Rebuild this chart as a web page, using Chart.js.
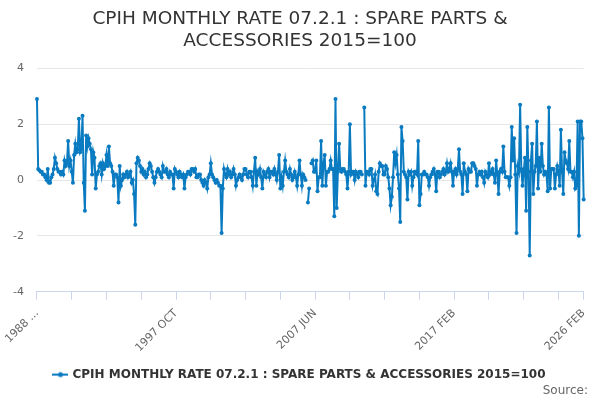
<!DOCTYPE html>
<html>
<head>
<meta charset="utf-8">
<script src="https://cdn.jsdelivr.net/npm/chart.js@4"></script>
<style>
  html, body { margin: 0; padding: 0; background: #fff; }
  #wrap { width: 600px; height: 400px; }
</style>
</head>
<body>
<div id="wrap"><canvas id="myChart"></canvas></div>
<script>
const seriesName = 'CPIH MONTHLY RATE 07.2.1 : SPARE PARTS & ACCESSORIES 2015=100';
const titleLines = ['CPIH MONTHLY RATE 07.2.1 : SPARE PARTS &', 'ACCESSORIES 2015=100'];
const sourceText = 'Source:';

// monthly periods, first one is 1988 FEB
const monthNames = ['JAN', 'FEB', 'MAR', 'APR', 'MAY', 'JUN', 'JUL', 'AUG', 'SEP', 'OCT', 'NOV', 'DEC'];
const startYear = 1988;
const startMonth = 1;

// monthly rate (%), one row per 12 months
const rates = [
  2.9, 0.4, 0.35, 0.3, 0.3, 0.2, 0.2, 0.1, 0.0, 0.4, -0.1, -0.1,
  0.1, 0.2, 0.4, 0.8, 0.6, 0.4, 0.3, 0.3, 0.2, 0.3, 0.2, 0.7,
  0.5, 0.6, 1.4, 0.5, 0.7, 0.3, -0.1, 0.9, 1.3, 1.0, 1.1, 2.2,
  1.0, 1.1, 2.3, -0.1, -1.1, 1.6, 1.2, 1.5, 1.3, 1.1, 0.2, 1.0,
  0.8, -0.3, 0.2, 0.3, 0.5, 0.6, 0.2, 0.6, 0.4, 0.5, 0.9, 0.5,
  1.2, 0.6, 0.5, 0.3, -0.2, 0.2, 0.2, 0.1, -0.8, 0.5, -0.2, 0.0,
  0.2, 0.1, 0.2, 0.3, 0.1, 0.2, 0.3, -0.1, 0.0, -0.5, -1.6, 0.6,
  0.8, 0.7, 0.5, 0.3, 0.4, 0.2, 0.3, 0.1, 0.2, 0.4, 0.6, 0.5,
  0.3, 0.1, -0.1, 0.1, 0.3, 0.4, 0.3, 0.2, 0.1, 0.5, 0.3, 0.3,
  0.4, 0.2, 0.1, 0.3, 0.2, 0.2, -0.3, 0.4, 0.3, 0.2, 0.1, 0.3,
  0.2, 0.1, 0.2, -0.3, 0.1, 0.2, 0.3, 0.3, 0.2, 0.4, 0.4, 0.3,
  0.4, 0.1, 0.1, 0.2, 0.2, 0.0, -0.1, -0.2, 0.0, -0.1, -0.3, 0.1,
  0.2, 0.6, 0.2, 0.1, 0.0, -0.1, 0.0, -0.1, -0.2, -0.2, -1.9, -0.3,
  0.4, 0.2, 0.1, 0.4, 0.2, 0.3, 0.1, 0.2, 0.4, 0.2, -0.2, 0.0,
  0.1, 0.2, 0.1, 0.0, 0.2, 0.4, 0.4, 0.2, 0.1, 0.3, 0.3, 0.1,
  -0.2, 0.3, 0.8, -0.2, 0.3, 0.2, 0.4, 0.1, -0.3, 0.3, 0.2, 0.1,
  0.3, 0.4, 0.1, 0.3, 0.3, 0.2, 0.4, 0.2, 0.0, 0.3, 0.9, -0.3,
  0.1, -0.2, 0.3, 0.7, 0.3, 0.2, 0.1, 0.4, 0.2, 0.0, 0.1, 0.3,
  0.1, -0.2, 0.2, 0.7, 0.2, -0.2, 0.2, 0.1, 0.0, null, -0.8, -0.3,
  null, 0.6, 0.7, 0.3, 0.3, 0.7, -0.4, 0.1, 0.1, 1.4, -0.2, 0.6,
  0.9, -0.2, 0.3, 0.3, 0.4, 0.7, 0.4, 0.4, -1.3, 2.9, -1.0, 0.3,
  1.3, 0.4, 0.3, 0.4, 0.4, 0.3, 0.2, -0.3, 0.3, 2.0, 0.2, 0.3,
  0.3, 0.0, 0.3, 0.2, 0.1, 0.3, 0.3, 0.2, null, 2.6, -0.2, 0.3,
  0.3, 0.2, 0.4, 0.4, -0.2, 0.0, 0.2, -0.4, -0.5, 0.3, 0.6, 0.5,
  0.5, 0.2, 0.2, 0.5, 0.4, 0.1, -0.3, -0.9, -0.6, 0.1, 1.0, 0.6,
  0.9, 0.2, -0.3, -1.5, 1.9, 1.4, 0.3, 0.2, 0.1, -0.7, 0.3, 0.2,
  0.3, -0.2, 0.1, 0.3, 0.3, 0.2, 1.4, -0.9, -0.5, 0.2, 0.2, 0.3,
  0.2, 0.2, 0.1, -0.2, 0.1, 0.2, 0.3, 0.4, 0.2, -0.4, 0.3, 0.3,
  0.1, 0.2, 0.3, 0.4, 0.2, 0.3, 0.6, 0.3, 0.4, 0.6, 0.3, -0.2,
  0.3, 0.4, 0.2, 0.4, 1.1, 0.3, 0.2, -0.5, 0.6, 0.3, 0.2, -0.4,
  0.4, 0.3, 0.3, 0.6, 0.6, 0.5, 0.4, -0.2, 0.2, 0.3, 0.2, 0.3,
  0.1, -0.1, 0.3, 0.2, 0.1, 0.6, 0.2, 0.3, 0.4, 0.2, -0.1, 0.7,
  0.2, -0.5, 0.3, 0.4, 0.3, 1.2, 0.3, 0.1, 0.1, 0.1, -0.2, 0.1,
  1.9, 0.7, 1.5, 0.2, -1.9, 0.5, 0.3, 2.7, 0.4, -0.2, 0.3, 0.8,
  -1.1, 1.9, 0.3, -2.7, 0.7, 1.3, -0.5, 0.3, 0.5, 2.1, -0.3, 0.8,
  0.3, 1.3, 0.5, 0.2, 0.3, 0.2, -0.4, 2.6, -0.3, 0.4, 0.4, 0.4,
  -0.3, 0.2, 0.5, 0.3, -0.2, 1.8, 0.3, -0.5, 1.0, 0.7, 0.6, 0.4,
  1.4, 0.3, 0.3, 0.1, 0.3, -0.3, -0.2, 2.1, -2.0, 2.1, 2.1, 1.5,
  -0.7
];

const yTicks = [-4, -2, 0, 2, 4];
const tickEvery = 29;   // small tick marks
const labelEvery = 116; // labelled ticks

const labels = rates.map((v, i) => {
  const m = startMonth + i;
  return (startYear + Math.floor(m / 12)) + ' ' + monthNames[m % 12];
});

const lineColor = '#0a7bc1';
const fontFamily = '"DejaVu Sans", Verdana, sans-serif';

// legend symbol: short line with a dot, like the original
const legendIcon = () => {
  const c = document.createElement('canvas');
  c.width = 16; c.height = 8;
  const g = c.getContext('2d');
  g.strokeStyle = lineColor;
  g.lineWidth = 2;
  g.beginPath(); g.moveTo(0, 4); g.lineTo(16, 4); g.stroke();
  g.fillStyle = lineColor;
  g.beginPath(); g.arc(8, 4, 2.5, 0, Math.PI * 2); g.fill();
  return c;
};

// keep the "Source:" credit a little in from the right edge
const sourceInset = {
  id: 'sourceInset',
  afterLayout: (chart) => {
    chart.boxes.forEach((box) => {
      if (box.options && box.options.text === sourceText) box.right -= 12;
    });
  }
};

const ctx = document.getElementById('myChart');
const myChart = new Chart(ctx, {
  type: 'line',
  data: {
    labels: labels,
    datasets: [{
      label: seriesName,
      data: rates,
      borderColor: lineColor,
      backgroundColor: lineColor,
      borderWidth: 2,
      pointRadius: 2,
      pointBackgroundColor: lineColor,
      pointBorderWidth: 0,
      tension: 0,
      spanGaps: false
    }]
  },
  plugins: [sourceInset],
  options: {
    responsive: true,
    maintainAspectRatio: false,
    animation: false,
    layout: { padding: { left: 0, right: 0, top: 4, bottom: 2 } },
    plugins: {
      title: {
        display: true,
        text: titleLines,
        color: '#333333',
        font: { family: fontFamily, size: 18.5, weight: 'normal', lineHeight: 1.2 },
        padding: { top: 4, bottom: 16 }
      },
      subtitle: {
        display: true,
        position: 'bottom',
        align: 'end',
        text: sourceText,
        color: '#666666',
        font: { family: fontFamily, size: 12, weight: 'normal' },
        padding: { top: -7, bottom: 0 }
      },
      legend: {
        position: 'bottom',
        labels: {
          color: '#333333',
          font: { family: fontFamily, size: 12, weight: 'bold' },
          usePointStyle: true,
          boxWidth: 16,
          padding: 4,
          generateLabels: (chart) => [{
            text: seriesName,
            pointStyle: legendIcon(),
            fillStyle: lineColor,
            strokeStyle: lineColor,
            fontColor: '#333333',
            datasetIndex: 0
          }]
        }
      },
      tooltip: { enabled: false }
    },
    scales: {
      x: {
        type: 'category',
        afterFit: (axis) => {
          axis.height += 3;
          axis.paddingRight = Math.max(axis.paddingRight, 16);
        },
        grid: {
          display: true,
          drawOnChartArea: false,
          drawTicks: true,
          tickLength: 8,
          color: '#ccd6eb'
        },
        border: { color: '#ccd6eb' },
        ticks: {
          autoSkip: false,
          maxRotation: 45,
          minRotation: 45,
          color: '#666666',
          font: { family: fontFamily, size: 11 },
          padding: 7,
          callback: function (value, index) {
            const last = labels.length - 1;
            if (index === 0) return labels[0].slice(0, 4) + ' ...';
            if (index === last || index % labelEvery === 0) return labels[index];
            if (index % tickEvery === 0) return '';
            return null;
          }
        }
      },
      y: {
        min: yTicks[0],
        max: yTicks[yTicks.length - 1],
        afterBuildTicks: (axis) => { axis.ticks = yTicks.map(v => ({ value: v })); },
        grid: { color: '#e6e6e6', drawTicks: false },
        border: { display: false },
        ticks: {
          color: '#666666',
          font: { family: fontFamily, size: 11 },
          padding: 13
        }
      }
    }
  }
});
</script>
</body>
</html>
